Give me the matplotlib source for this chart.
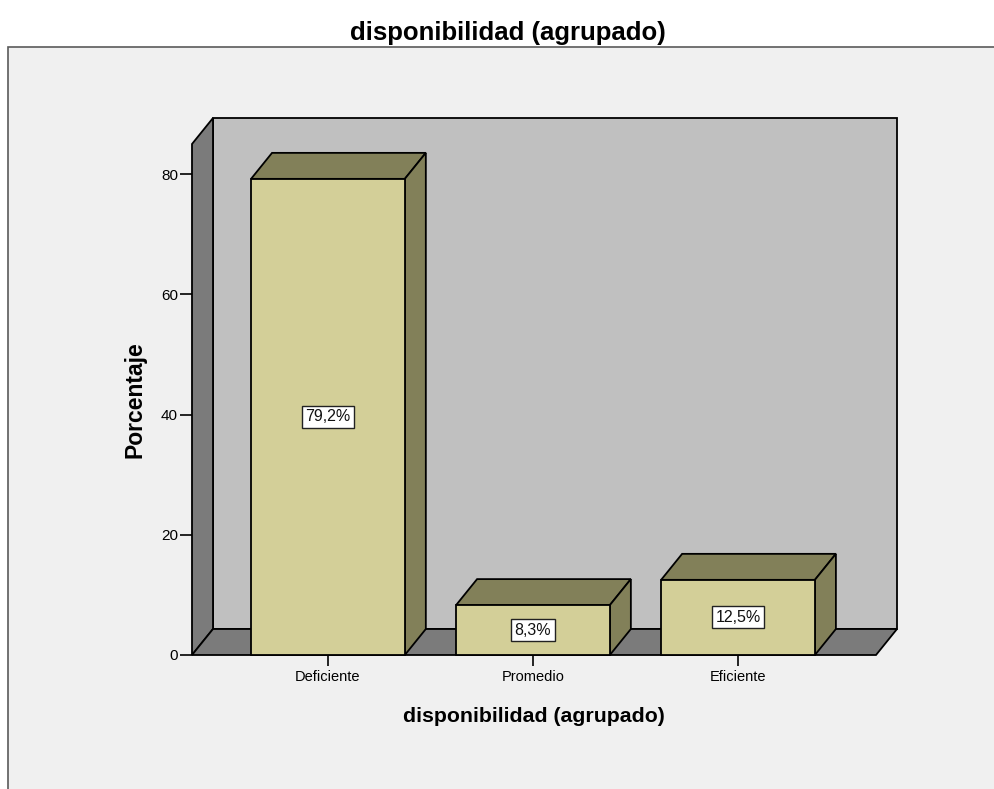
import matplotlib.pyplot as plt
from matplotlib.patches import Polygon, Rectangle

categories = ['Deficiente', 'Promedio', 'Eficiente']
percentages = [79.2, 8.3, 12.5]
value_labels = ['79,2%', '8,3%', '12,5%']
y_ticks = [0, 20, 40, 60, 80]

plt.rcParams['font.family'] = ['Liberation Sans', 'DejaVu Sans']

W, H = 994, 789
fig = plt.figure(figsize=(W / 100, H / 100), dpi=100)
fig.patch.set_facecolor('white')

# grey chart panel (runs off the right and bottom edges)
fig.patches.append(Rectangle((8 / W, -0.05), 1.2, (H - 47) / H + 0.05,
                             transform=fig.transFigure, facecolor='#f0f0f0',
                             edgecolor='#5a5a5a', linewidth=1.2, zorder=-5))

# front plane of the axes, in pixels
x_left, x_right, y_zero, y_top = 192, 876, 655, 144
ymax = 85
ax = fig.add_axes([x_left / W, (H - y_zero) / H, (x_right - x_left) / W, (y_zero - y_top) / H])
ax.set_facecolor('none')
ax.set_zorder(2)
xmin, xmax = -0.663, 2.673
ax.set_xlim(xmin, xmax)
ax.set_ylim(0, ymax)

# depth offset, pixels -> data (back is up and to the right)
px_x = (xmax - xmin) / (x_right - x_left)
px_y = ymax / (y_zero - y_top)
dx, dy = 21 * px_x, 26 * px_y

wall_dark = '#7b7b7b'
wall_back = '#c0c0c0'
face = '#d3cf98'
side = '#828059'
lw = 1.3

def poly(pts, color, z):
    ax.add_patch(Polygon(pts, closed=True, facecolor=color, edgecolor='black',
                         linewidth=lw, clip_on=False, zorder=z, joinstyle='miter'))

# back wall, left wall, floor
poly([(xmin + dx, dy), (xmax + dx, dy), (xmax + dx, ymax + dy), (xmin + dx, ymax + dy)], wall_back, 1)
poly([(xmin, 0), (xmin + dx, dy), (xmin + dx, ymax + dy), (xmin, ymax)], wall_dark, 2)
poly([(xmin, 0), (xmax, 0), (xmax + dx, dy), (xmin + dx, dy)], wall_dark, 2)

width = 0.75
xs = range(len(categories))
bars = ax.bar(xs, percentages, width=width, color=face, edgecolor='black',
              linewidth=lw, zorder=5, clip_on=False)
for b, v, lab in zip(bars, percentages, value_labels):
    x0 = b.get_x()
    x1 = x0 + b.get_width()
    poly([(x0, v), (x1, v), (x1 + dx, v + dy), (x0 + dx, v + dy)], side, 4)
    poly([(x1, 0), (x1 + dx, dy), (x1 + dx, v + dy), (x1, v)], side, 4)
    ax.text(b.get_x() + b.get_width() / 2, v / 2, lab, ha='center', va='center',
            fontsize=11.5, color='#111111', zorder=6,
            bbox=dict(boxstyle='square,pad=0.22', facecolor='white', edgecolor='#222222', linewidth=1.0))

for s in ax.spines.values():
    s.set_visible(False)
ax.set_yticks(y_ticks)
ax.set_xticks(list(xs))
ax.set_xticklabels(categories)
ax.tick_params(axis='y', length=9, width=1.2, labelsize=11, pad=1)
ax.tick_params(axis='x', length=8, width=1.2, labelsize=10.5, pad=3)
ax.set_ylabel('Porcentaje', fontsize=16.5, fontweight='bold')
ax.yaxis.set_label_coords((146 - x_left) / (x_right - x_left), 0.5 - ((400 - (y_zero + y_top) / 2) / (y_zero - y_top)))
ax.set_xlabel('disponibilidad (agrupado)', fontsize=15.3, fontweight='bold', labelpad=16)

fig.text(508 / W, (H - 33) / H, 'disponibilidad (agrupado)', ha='center', va='center',
         fontsize=18.5, fontweight='bold')

fig.savefig('out.png', dpi=100)
